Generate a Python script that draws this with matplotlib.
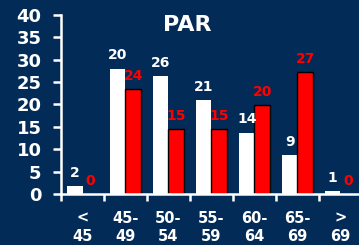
import matplotlib.pyplot as plt
import numpy as np

categories = ["<\n45", "45-\n49", "50-\n54", "55-\n59", "60-\n64", "65-\n69", ">\n69"]
white_values = [1.8, 28.0, 26.4, 20.9, 13.7, 8.7, 0.7]
red_values = [0.0, 23.5, 14.5, 14.5, 19.8, 27.3, 0.0]
white_labels = ["2", "20", "26", "21", "14", "9", "1"]
red_labels = ["0", "24", "15", "15", "20", "27", "0"]

BG = "#022b58"


def main():
    fig = plt.figure(figsize=(3.59, 2.45), dpi=100, facecolor=BG)
    ax = fig.add_axes([0.170, 0.208, 0.838, 0.731], facecolor=BG)

    x = np.arange(len(categories))
    w = 0.36
    ax.bar(x - 0.18, white_values, w, color="white", edgecolor="none", zorder=2)
    ax.bar(x + 0.18, red_values, w, color="#ff0000", edgecolor="black", linewidth=1, zorder=2)

    # value labels
    for xi, v, lbl in zip(x, white_values, white_labels):
        ax.text(xi - 0.18, v + 1.4, lbl, color="white", fontsize=10, fontweight="bold",
                ha="center", va="bottom")
    for xi, v, lbl in zip(x, red_values, red_labels):
        ax.text(xi + 0.18, v + 1.4, lbl, color="#ff0000", fontsize=10, fontweight="bold",
                ha="center", va="bottom")

    ax.set_xlim(-0.5, len(categories) - 0.5)
    ax.set_ylim(0, 40)
    ax.set_yticks(range(0, 41, 5))
    ax.set_xticks(x, categories)
    ax.set_xticks(np.arange(len(categories) + 1) - 0.5, minor=True)

    for s in ["top", "right"]:
        ax.spines[s].set_visible(False)
    for s in ["left", "bottom"]:
        ax.spines[s].set_color("white")
        ax.spines[s].set_linewidth(1.8)

    ax.tick_params(axis="y", colors="white", length=6, width=1.8, pad=8, labelsize=13)
    ax.tick_params(axis="x", which="major", colors="white", length=0, pad=12, labelsize=10.5)
    ax.tick_params(axis="x", which="minor", colors="white", length=5, width=1.8)
    for lbl in ax.get_yticklabels() + ax.get_xticklabels():
        lbl.set_fontweight("bold")
    for lbl in ax.get_xticklabels():
        lbl.set_linespacing(1.25)

    fig.text(187 / 359, 1 - 25 / 245, "PAR", color="white", fontsize=16, fontweight="bold",
             ha="center", va="center")

    fig.savefig("out.png", dpi=100, facecolor=BG)


if __name__ == "__main__":
    main()
